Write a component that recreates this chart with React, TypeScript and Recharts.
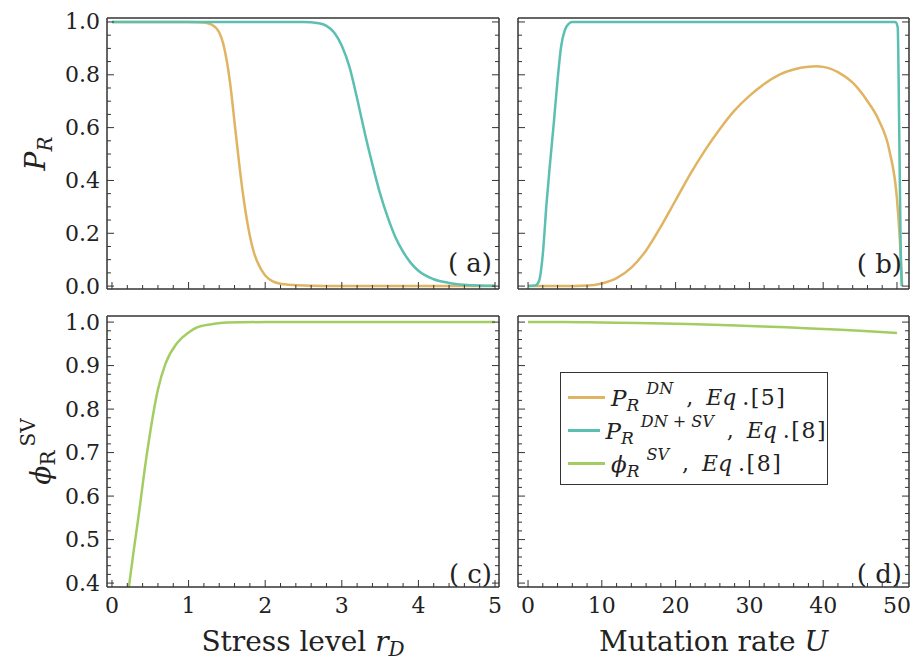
import React from "react";
import { LineChart, Line, XAxis, YAxis, Legend } from "recharts";

const FONT = "'DejaVu Serif', serif";
const ORANGE = "#E0B462"; // P_R^DN
const TEAL = "#5BBFB2"; // P_R^DN+SV
const GREEN = "#A3CD62"; // phi_R^SV
const FRAME = "#333";

// (a) stress level r_D
const stressDnX = [0, 0.5, 1.0, 1.2, 1.3, 1.4, 1.45, 1.5, 1.55, 1.6, 1.65, 1.7, 1.75, 1.8, 1.85, 1.9, 2.0, 2.1, 2.25, 2.5, 3, 4, 5];
const stressDnY = [1, 1, 1, 0.998, 0.99, 0.96, 0.92, 0.85, 0.75, 0.62, 0.49, 0.37, 0.27, 0.19, 0.13, 0.09, 0.04, 0.018, 0.007, 0.002, 0, 0, 0];
const stressSvX = [0, 2.5, 2.7, 2.8, 2.9, 3.0, 3.1, 3.2, 3.3, 3.4, 3.5, 3.6, 3.7, 3.8, 3.9, 4.0, 4.2, 4.4, 4.6, 4.8, 5.0];
const stressSvY = [1, 1, 0.995, 0.985, 0.96, 0.91, 0.83, 0.71, 0.58, 0.46, 0.35, 0.26, 0.185, 0.13, 0.088, 0.058, 0.026, 0.012, 0.005, 0.002, 0.001];

// (b) mutation rate U
const mutDnX = [0, 5, 8, 10, 12, 14, 16, 18, 20, 22, 24, 26, 28, 30, 32, 34, 36, 38, 39, 40, 42, 44, 46, 47.5, 49, 50, 50.4, 50.7];
const mutDnY = [0, 0, 0.002, 0.01, 0.03, 0.07, 0.135, 0.225, 0.325, 0.425, 0.515, 0.595, 0.665, 0.72, 0.765, 0.8, 0.82, 0.83, 0.832, 0.83, 0.81, 0.77, 0.7, 0.63, 0.51, 0.33, 0.17, 0];
const mutSvX = [0, 1.0, 1.5, 2.0, 2.5, 3.0, 3.5, 4.0, 4.5, 5.0, 5.5, 6.0, 10, 20, 30, 40, 49.8, 50.1, 50.3, 50.5, 50.65];
const mutSvY = [0, 0.002, 0.02, 0.12, 0.31, 0.47, 0.62, 0.78, 0.91, 0.97, 0.993, 1, 1, 1, 1, 1, 1, 0.98, 0.6, 0.15, 0];

// (c) phi vs stress, (d) phi vs mutation rate
const phiStressX = [0.22, 0.28, 0.34, 0.45, 0.6, 0.7, 0.85, 1.0, 1.1, 1.3, 1.5, 2.0, 3, 4, 5];
const phiStressY = [0.39, 0.47, 0.545, 0.69, 0.845, 0.905, 0.952, 0.976, 0.987, 0.995, 0.999, 1, 1, 1, 1];
const phiMutX = [0, 5, 10, 15, 20, 25, 30, 35, 40, 45, 50];
const phiMutY = [1.0, 1.0, 0.999, 0.998, 0.996, 0.994, 0.991, 0.988, 0.984, 0.98, 0.975];

// ticks
const stressMajor = [0, 1, 2, 3, 4, 5];
const mutMajor = [0, 10, 20, 30, 40, 50];
const prMajor = [0, 0.2, 0.4, 0.6, 0.8, 1.0];
const phiMajor = [0.4, 0.5, 0.6, 0.7, 0.8, 0.9, 1.0];

function steps(a: number, b: number, d: number) {
  const out: number[] = [];
  for (let v = a; v <= b + d / 2; v += d) out.push(Math.round(v * 1000) / 1000);
  return out;
}

const legendRows = [
  { color: ORANGE, sym: "P", sup: "DN", eq: "5" },
  { color: TEAL, sym: "P", sup: "DN + SV", eq: "8" },
  { color: GREEN, sym: "ϕ", sup: "SV", eq: "8" },
];

function rows(xs: number[], ys: number[]) {
  return xs.map((x, i) => ({ x, y: ys[i] }));
}

type Side = "bottom" | "top" | "left" | "right";

function frameTick(side: Side, major: number[], labels: boolean, fmt: (v: number) => string) {
  return (props: any) => {
    const { x, y, payload } = props;
    const v = payload.value;
    const isMajor = major.some((m) => Math.abs(m - v) < 1e-6);
    const len = isMajor ? 7 : 4;
    let x2 = x;
    let y2 = y;
    if (side === "bottom") y2 = y - len;
    if (side === "top") y2 = y + len;
    if (side === "left") x2 = x + len;
    if (side === "right") x2 = x - len;
    return (
      <g>
        <line x1={x} y1={y} x2={x2} y2={y2} stroke={FRAME} strokeWidth={1} />
        {labels && isMajor && side === "bottom" && (
          <text x={x} y={y + 18} textAnchor="middle" dominantBaseline="central" fontFamily={FONT} fontSize={22} fill="#222">
            {fmt(v)}
          </text>
        )}
        {labels && isMajor && side === "left" && (
          <text x={x - 7} y={y} textAnchor="end" dominantBaseline="central" fontFamily={FONT} fontSize={22} fill="#222">
            {fmt(v)}
          </text>
        )}
      </g>
    );
  };
}

function LegendBox() {
  return (
    <div
      style={{
        width: 268,
        height: 113,
        border: `1.5px solid ${FRAME}`,
        background: "#fff",
        paddingTop: 8,
        boxSizing: "border-box",
        fontFamily: FONT,
        color: "#222",
      }}
    >
      {legendRows.map((r, i) => (
        <div key={i} style={{ display: "flex", alignItems: "center", height: 33, whiteSpace: "nowrap" }}>
          <span style={{ display: "inline-block", width: 37, height: 2.5, background: r.color, marginLeft: 7, marginRight: 6 }} />
          <span style={{ fontSize: 23, fontStyle: "italic" }}>{r.sym}</span>
          <span style={{ fontSize: 17, fontStyle: "italic", position: "relative", top: 7 }}>R</span>
          <span style={{ fontSize: 16, fontStyle: "italic", position: "relative", top: -9, marginLeft: 7 }}>{r.sup}</span>
          <span style={{ fontSize: 22, marginLeft: 13 }}>,</span>
          <span style={{ fontSize: 22, fontStyle: "italic", marginLeft: 13 }}>Eq</span>
          <span style={{ fontSize: 22, letterSpacing: 1.5 }}>&thinsp;.[{r.eq}]</span>
        </div>
      ))}
    </div>
  );
}

interface Box { left: number; top: number; width: number; height: number }
interface Plot { x0: number; y0: number; x1: number; y1: number }
interface Series { xs: number[]; ys: number[]; color: string; name: string }

interface PanelProps {
  box: Box;
  plot: Plot;
  xDomain: [number, number];
  yDomain: [number, number];
  xMajor: number[];
  xMinor: number[];
  yMajor: number[];
  yMinor: number[];
  xLabels: boolean;
  yLabels: boolean;
  yFmt: (v: number) => string;
  xTitle?: (vb: any) => React.ReactNode;
  yTitle?: (vb: any) => React.ReactNode;
  series: Series[];
  legend?: boolean;
}

function Panel(p: PanelProps) {
  const { box, plot } = p;
  const leftW = plot.x0 - box.left;
  const bottomH = box.top + box.height - plot.y1;
  const margin = {
    top: plot.y0 - box.top - 1,
    right: box.left + box.width - plot.x1 - 1,
    bottom: 0,
    left: 0,
  };
  const xFmt = (v: number) => String(v);
  const axisLine = { stroke: FRAME, strokeWidth: 1.5 };
  const common = {
    type: "number" as const,
    allowDataOverflow: true,
    interval: 0 as const,
    tickSize: 0,
    tickMargin: 0,
    tickLine: false,
    axisLine,
  };
  return (
    <div style={{ position: "absolute", left: box.left, top: box.top }}>
      <LineChart width={box.width} height={box.height} margin={margin}>
        <XAxis
          {...common}
          xAxisId="b"
          dataKey="x"
          orientation="bottom"
          domain={p.xDomain}
          ticks={p.xMinor}
          height={bottomH}
          tick={frameTick("bottom", p.xMajor, p.xLabels, xFmt)}
          label={p.xTitle ? { content: (lp: any) => p.xTitle!(lp.viewBox) } : undefined}
        />
        <XAxis
          {...common}
          xAxisId="t"
          orientation="top"
          domain={p.xDomain}
          ticks={p.xMinor}
          height={1}
          tick={frameTick("top", p.xMajor, false, xFmt)}
        />
        <YAxis
          {...common}
          yAxisId="l"
          orientation="left"
          domain={p.yDomain}
          ticks={p.yMinor}
          width={leftW}
          tick={frameTick("left", p.yMajor, p.yLabels, p.yFmt)}
          label={p.yTitle ? { content: (lp: any) => p.yTitle!(lp.viewBox) } : undefined}
        />
        <YAxis
          {...common}
          yAxisId="r"
          orientation="right"
          domain={p.yDomain}
          ticks={p.yMinor}
          width={1}
          tick={frameTick("right", p.yMajor, false, p.yFmt)}
        />
        {p.series.map((s) => (
          <Line
            key={s.name}
            xAxisId="b"
            yAxisId="l"
            data={rows(s.xs, s.ys)}
            dataKey="y"
            name={s.name}
            type="monotone"
            stroke={s.color}
            strokeWidth={2.5}
            dot={false}
            activeDot={false}
            isAnimationActive={false}
          />
        ))}
        {p.legend && (
          <Legend
            layout="horizontal"
            verticalAlign="middle"
            align="center"
            wrapperStyle={{ left: 55, top: 72, width: 268, height: 113 }}
            content={() => <LegendBox />}
          />
        )}
      </LineChart>
    </div>
  );
}

const fmt1 = (v: number) => v.toFixed(1);

function xTitleStress(vb: any) {
  return (
    <text x={vb.x + vb.width / 2} y={vb.y + 64} textAnchor="middle" fontFamily={FONT} fontSize={28} fill="#222">
      Stress level{" "}
      <tspan fontStyle="italic">r</tspan>
      <tspan fontStyle="italic" fontSize={20} dy={5}>D</tspan>
    </text>
  );
}

function xTitleMut(vb: any) {
  return (
    <text x={vb.x + vb.width / 2} y={vb.y + 64} textAnchor="middle" fontFamily={FONT} fontSize={28} fill="#222">
      Mutation rate <tspan fontStyle="italic">U</tspan>
    </text>
  );
}

function yTitlePr(vb: any) {
  const cx = 45;
  const cy = vb.y + vb.height / 2;
  return (
    <text x={cx} y={cy} transform={`rotate(-90, ${cx}, ${cy})`} textAnchor="middle" fontFamily={FONT} fontSize={28} fill="#222">
      <tspan fontStyle="italic">P</tspan>
      <tspan fontStyle="italic" fontSize={20} dy={7}>R</tspan>
    </text>
  );
}

function yTitlePhi(vb: any) {
  const cx = 50;
  const cy = vb.y + vb.height / 2;
  return (
    <text x={cx} y={cy} transform={`rotate(-90, ${cx}, ${cy})`} textAnchor="middle" fontFamily={FONT} fontSize={28} fill="#222">
      <tspan fontStyle="italic">ϕ</tspan>
      <tspan fontSize={20} dy={5}>R</tspan>
      <tspan fontSize={20} dy={-20} dx={4}>SV</tspan>
    </text>
  );
}

const tags = [
  { text: "( a)", right: 492, cy: 263 },
  { text: "( b)", right: 902, cy: 264 },
  { text: "( c)", right: 492, cy: 574 },
  { text: "( d)", right: 902, cy: 574 },
];

export default function App() {
  const stressDomain: [number, number] = [-0.065, 5.052];
  const mutDomain: [number, number] = [-1.36, 51.63];
  const prDomain: [number, number] = [-0.011, 1.015];
  const phiDomain: [number, number] = [0.391, 1.014];
  return (
    <div style={{ position: "absolute", left: 0, top: 0, width: 916, height: 662, background: "#fff", overflow: "hidden" }}>
      <Panel
        box={{ left: 0, top: 0, width: 505, height: 300 }}
        plot={{ x0: 107, y0: 18, x1: 499, y1: 289 }}
        xDomain={stressDomain}
        yDomain={prDomain}
        xMajor={stressMajor}
        xMinor={steps(0, 5, 0.2)}
        yMajor={prMajor}
        yMinor={steps(0, 1, 0.05)}
        xLabels={false}
        yLabels={true}
        yFmt={fmt1}
        yTitle={yTitlePr}
        series={[
          { xs: stressDnX, ys: stressDnY, color: ORANGE, name: "dn" },
          { xs: stressSvX, ys: stressSvY, color: TEAL, name: "sv" },
        ]}
      />
      <Panel
        box={{ left: 505, top: 0, width: 411, height: 300 }}
        plot={{ x0: 518, y0: 18, x1: 909, y1: 289 }}
        xDomain={mutDomain}
        yDomain={prDomain}
        xMajor={mutMajor}
        xMinor={steps(0, 50, 2)}
        yMajor={prMajor}
        yMinor={steps(0, 1, 0.05)}
        xLabels={false}
        yLabels={false}
        yFmt={fmt1}
        series={[
          { xs: mutDnX, ys: mutDnY, color: ORANGE, name: "dn" },
          { xs: mutSvX, ys: mutSvY, color: TEAL, name: "sv" },
        ]}
      />
      <Panel
        box={{ left: 0, top: 300, width: 505, height: 362 }}
        plot={{ x0: 107, y0: 316, x1: 499, y1: 587 }}
        xDomain={stressDomain}
        yDomain={phiDomain}
        xMajor={stressMajor}
        xMinor={steps(0, 5, 0.2)}
        yMajor={phiMajor}
        yMinor={steps(0.4, 1, 0.02)}
        xLabels={true}
        yLabels={true}
        yFmt={fmt1}
        xTitle={xTitleStress}
        yTitle={yTitlePhi}
        series={[{ xs: phiStressX, ys: phiStressY, color: GREEN, name: "phi" }]}
      />
      <Panel
        box={{ left: 505, top: 300, width: 411, height: 362 }}
        plot={{ x0: 518, y0: 316, x1: 909, y1: 587 }}
        xDomain={mutDomain}
        yDomain={phiDomain}
        xMajor={mutMajor}
        xMinor={steps(0, 50, 2)}
        yMajor={phiMajor}
        yMinor={steps(0.4, 1, 0.02)}
        xLabels={true}
        yLabels={false}
        yFmt={fmt1}
        xTitle={xTitleMut}
        series={[{ xs: phiMutX, ys: phiMutY, color: GREEN, name: "phi" }]}
        legend
      />
      {tags.map((t) => (
        <div
          key={t.text}
          style={{
            position: "absolute",
            left: t.right - 100,
            width: 100,
            top: t.cy - 16,
            height: 32,
            lineHeight: "32px",
            textAlign: "right",
            fontFamily: FONT,
            fontSize: 26,
            color: "#222",
            whiteSpace: "pre",
          }}
        >
          {t.text}
        </div>
      ))}
    </div>
  );
}
